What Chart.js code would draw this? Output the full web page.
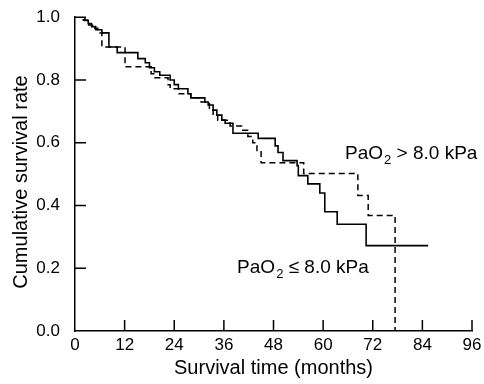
<!DOCTYPE html>
<html lang="en">
<head>
    <meta charset="UTF-8">
    <meta name="viewport" content="width=device-width, initial-scale=1.0">
    <title>Cumulative survival by PaO2</title>
    <script src="https://cdn.jsdelivr.net/npm/chart.js"></script>
    <style>
        html, body {
            margin: 0;
            padding: 0;
            background: #fff;
        }
        #chart-wrap {
            width: 484px;
            height: 384px;
        }
    </style>
</head>
<body>
    <div id="chart-wrap">
        <canvas id="survivalChart" width="484" height="384"></canvas>
    </div>
    <script>
        // PaO2 <= 8.0 kPa : month of each step and survival after it
        const lowTimes = [0, 2.4, 3.2, 4.0, 5.0, 6.5, 8.2, 10.2, 15.2, 17.0, 18.0, 19.2, 20.5, 23.0, 24.0, 25.0, 27.3, 28.0,
                          31.4, 32.2, 33.4, 34.3, 35.5, 36.3, 38.2, 44.3, 48.4, 49.1, 50.3, 53.7, 54.0, 56.3, 59.2,
                          60.4, 63.4, 70.4, 85.4];
        const lowSurvival = [1.0, 0.99, 0.98, 0.97, 0.96, 0.95, 0.905, 0.887, 0.868, 0.855, 0.839, 0.826, 0.815, 0.80, 0.785, 0.772, 0.756, 0.743,
                             0.73, 0.72, 0.704, 0.688, 0.672, 0.662, 0.63, 0.614, 0.59, 0.569, 0.543, 0.527, 0.495, 0.469, 0.44,
                             0.38, 0.34, 0.272, 0.272];

        // PaO2 > 8.0 kPa
        const highTimes = [0, 2.0, 3.3, 4.5, 5.5, 6.5, 12.1, 18.4, 19.3, 22.5, 23.0, 25.0, 28.0, 30.5, 32.5, 33.4, 34.5,
                           37.5, 40.3, 41.8, 43.0, 44.0, 45.0, 55.3, 68.4, 70.9, 77.4];
        const highSurvival = [1.0, 0.99, 0.975, 0.965, 0.95, 0.905, 0.842, 0.82, 0.807, 0.785, 0.772, 0.756, 0.743, 0.73, 0.71, 0.688, 0.672,
                              0.653, 0.64, 0.62, 0.60, 0.575, 0.536, 0.502, 0.432, 0.368, 0.0];

        const xTicks = [0, 12, 24, 36, 48, 60, 72, 84, 96];
        const yTicks = [0, 0.2, 0.4, 0.6, 0.8, 1.0];

        const groupLabels = [
            { text: ' > 8.0 kPa', month: 65.3, rate: 0.548 },
            { text: ' \u2264 8.0 kPa', month: 39.2, rate: 0.185 }
        ];

        const FONT = '"Liberation Sans", Arial, Helvetica, sans-serif';

        function toPoints(times, values) {
            return times.map((t, i) => ({ x: t, y: values[i] }));
        }

        // inward tick marks, group labels and the y title
        const extrasPlugin = {
            id: 'extras',
            afterDraw(chart) {
                const ctx = chart.ctx;
                const xs = chart.scales.x;
                const ys = chart.scales.y;
                const area = chart.chartArea;
                ctx.save();
                ctx.strokeStyle = '#000';
                ctx.lineWidth = 1.5;
                ctx.beginPath();
                xTicks.forEach(v => {
                    if (v === 0) return;
                    const px = xs.getPixelForValue(v);
                    ctx.moveTo(px, area.bottom);
                    ctx.lineTo(px, area.bottom - 11);
                });
                yTicks.forEach(v => {
                    if (v === 0) return;
                    const py = ys.getPixelForValue(v);
                    ctx.moveTo(area.left, py);
                    ctx.lineTo(area.left + 11, py);
                });
                ctx.stroke();

                ctx.fillStyle = '#000';
                ctx.textAlign = 'left';
                ctx.textBaseline = 'alphabetic';
                groupLabels.forEach(lab => {
                    let x = xs.getPixelForValue(lab.month);
                    const y = ys.getPixelForValue(lab.rate);
                    ctx.font = '19px ' + FONT;
                    ctx.fillText('PaO', x, y);
                    x += ctx.measureText('PaO').width + 1;
                    ctx.font = '13px ' + FONT;
                    ctx.fillText('2', x, y + 5);
                    x += ctx.measureText('2').width;
                    ctx.font = '19px ' + FONT;
                    ctx.fillText(lab.text, x, y);
                });

                // y title sits a little below the middle of the axis
                ctx.translate(21, 182);
                ctx.rotate(-Math.PI / 2);
                ctx.textAlign = 'center';
                ctx.textBaseline = 'middle';
                ctx.font = '20px ' + FONT;
                ctx.fillText('Cumulative survival rate', 0, 0);
                ctx.restore();
            }
        };

        const ctx = document.getElementById('survivalChart').getContext('2d');
        const survivalChart = new Chart(ctx, {
            type: 'line',
            data: {
                datasets: [{
                    label: 'PaO2 \u2264 8.0 kPa',
                    data: toPoints(lowTimes, lowSurvival),
                    borderColor: '#000',
                    borderWidth: 1.6,
                    stepped: 'before',
                    pointRadius: 0,
                    fill: false
                }, {
                    label: 'PaO2 > 8.0 kPa',
                    data: toPoints(highTimes, highSurvival),
                    borderColor: '#000',
                    borderWidth: 1.5,
                    borderDash: [6, 4],
                    stepped: 'before',
                    pointRadius: 0,
                    fill: false
                }]
            },
            options: {
                responsive: false,
                animation: false,
                devicePixelRatio: 1,
                layout: { padding: { top: 17, right: 12, left: 0, bottom: 0 } },
                plugins: {
                    legend: { display: false },
                    tooltip: { enabled: false }
                },
                scales: {
                    x: {
                        type: 'linear',
                        min: 0,
                        max: 96,
                        grid: { display: false },
                        border: { display: true, color: '#000', width: 1.5 },
                        afterBuildTicks: scale => { scale.ticks = xTicks.map(v => ({ value: v })); },
                        afterFit: scale => { scale.height = 53; },
                        ticks: {
                            color: '#000',
                            padding: -4,
                            maxRotation: 0,
                            font: { family: FONT, size: 17 }
                        },
                        title: {
                            display: true,
                            text: 'Survival time (months)',
                            color: '#000',
                            padding: { top: 0, bottom: 4 },
                            font: { family: FONT, size: 20 }
                        }
                    },
                    y: {
                        min: 0,
                        max: 1,
                        grid: { display: false },
                        border: { display: true, color: '#000', width: 1.5 },
                        afterBuildTicks: scale => { scale.ticks = yTicks.map(v => ({ value: v })); },
                        afterFit: scale => { scale.width = 75; },
                        ticks: {
                            color: '#000',
                            padding: 7,
                            font: { family: FONT, size: 17 },
                            callback: v => v.toFixed(1)
                        }
                    }
                }
            },
            plugins: [extrasPlugin]
        });
    </script>
</body>
</html>
